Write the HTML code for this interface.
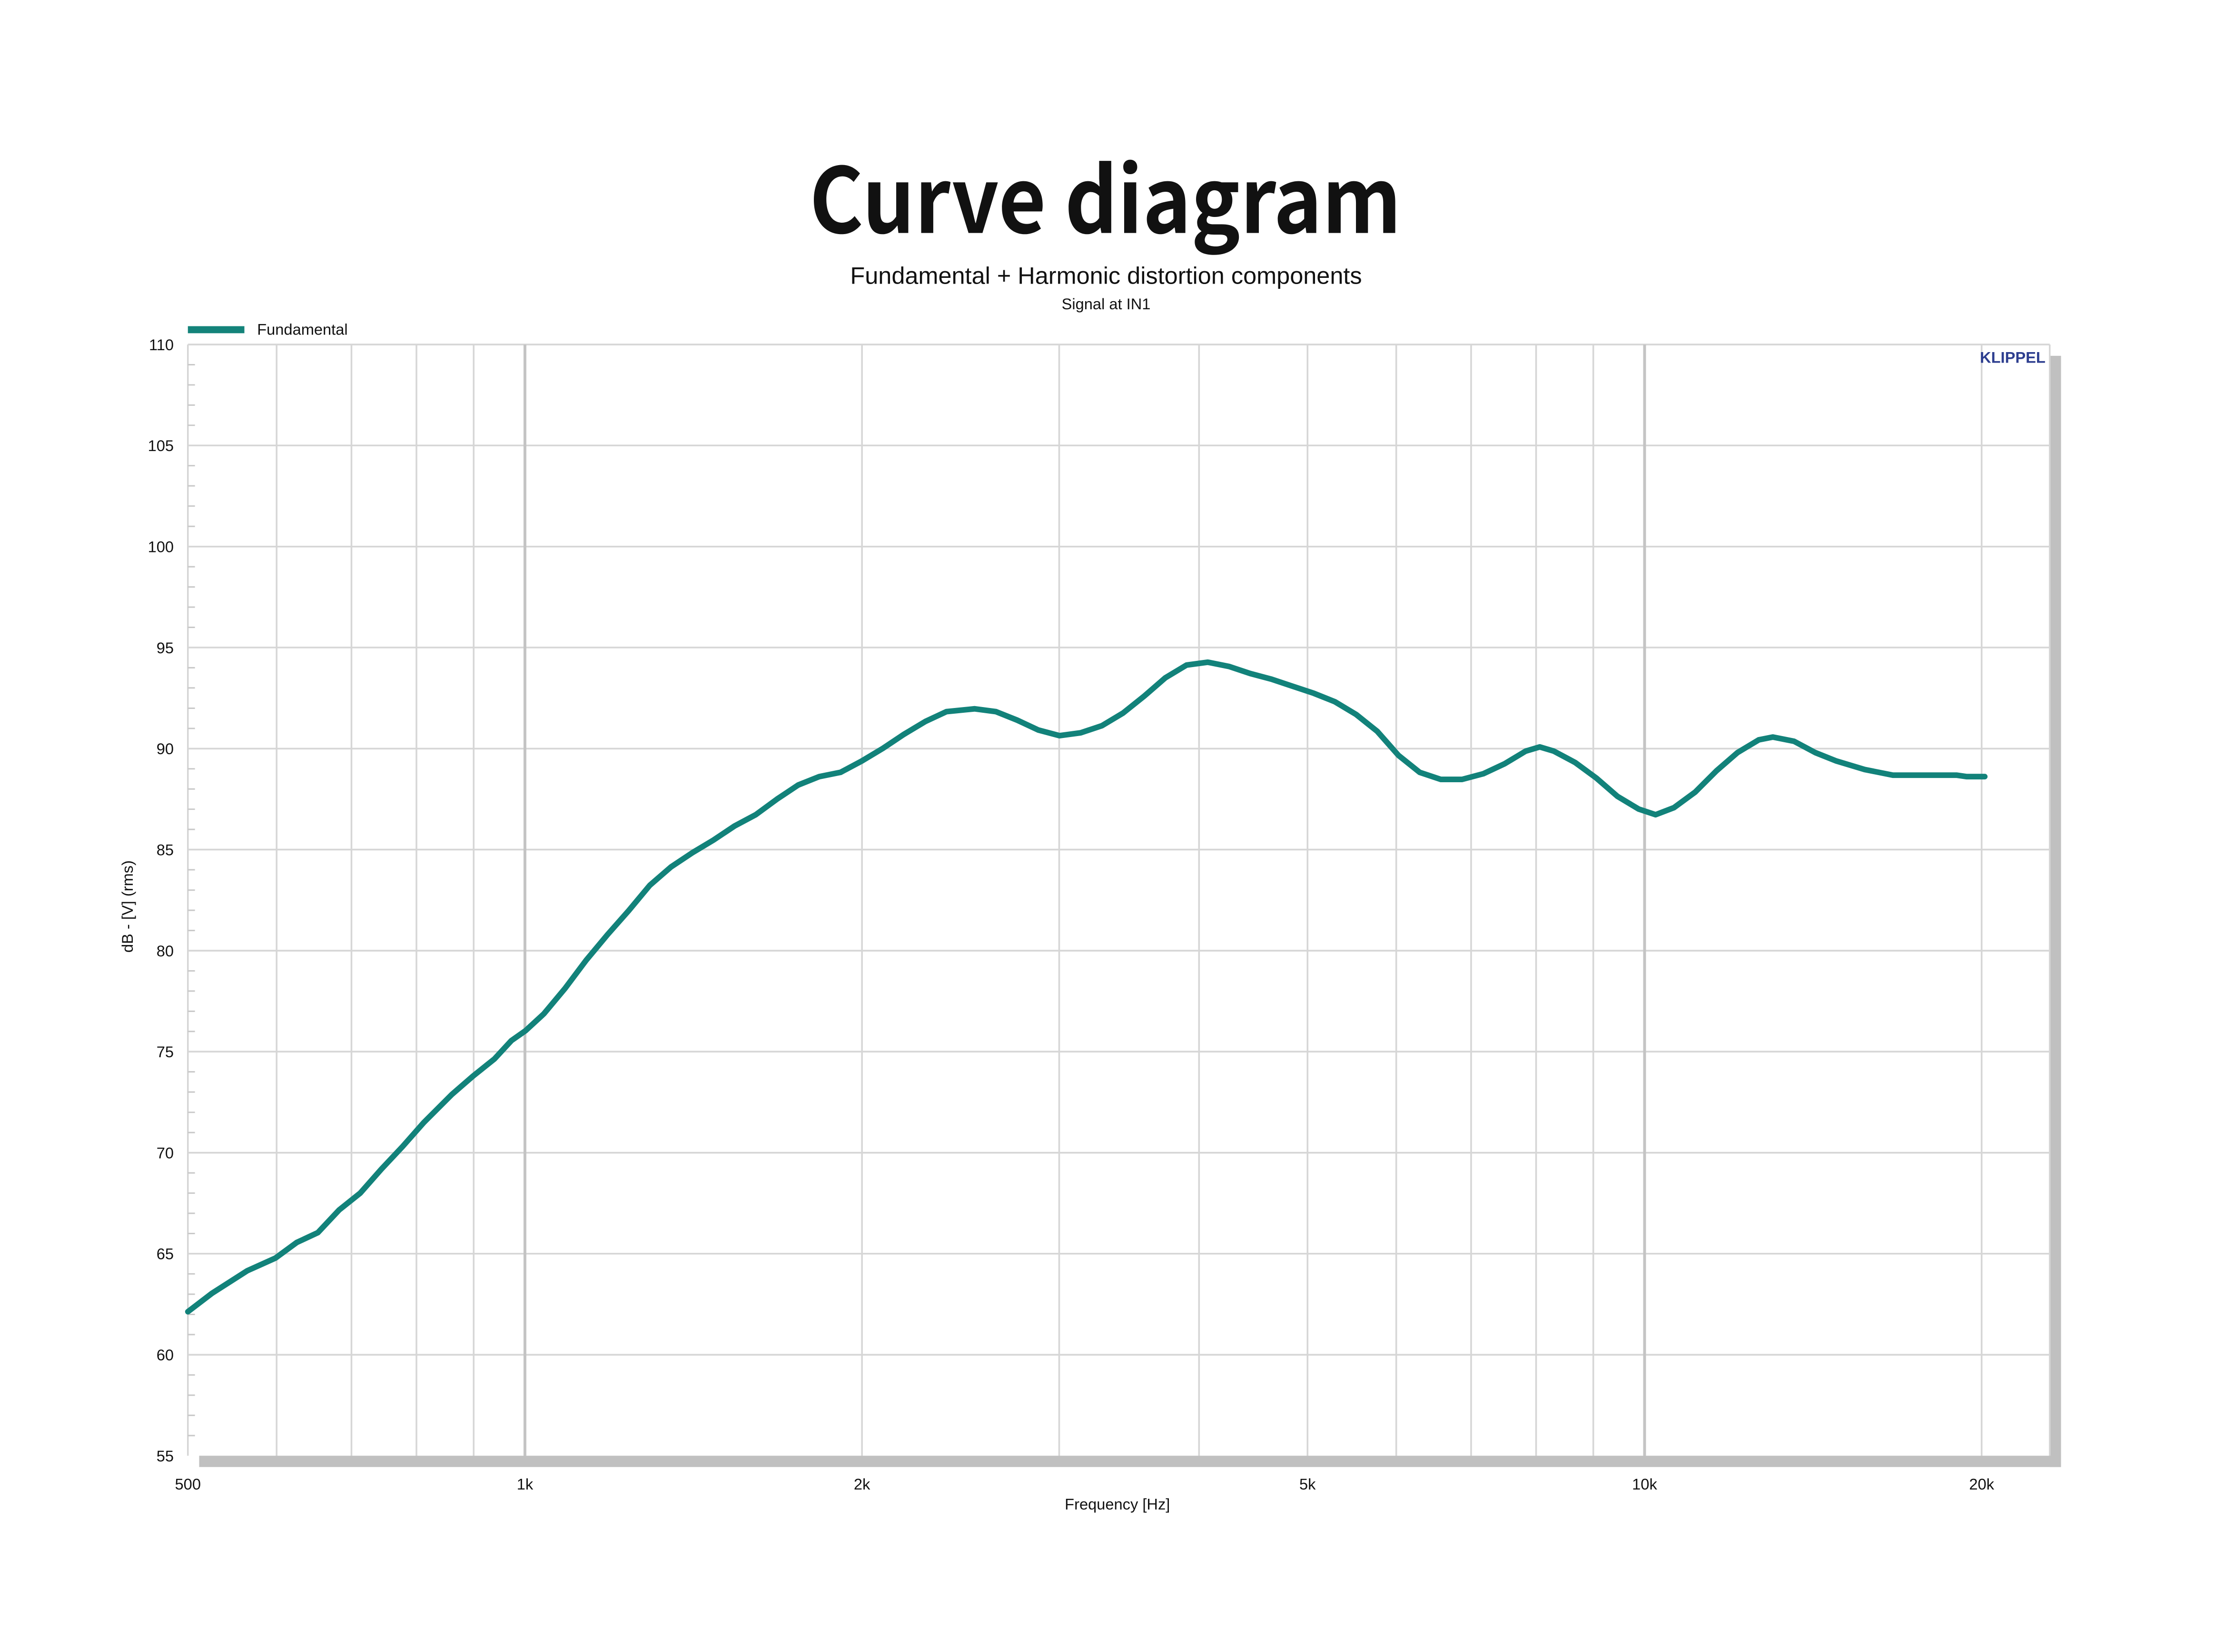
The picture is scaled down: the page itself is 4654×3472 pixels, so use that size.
<!DOCTYPE html>
<html><head><meta charset="utf-8"><style>
html,body{margin:0;padding:0;background:#fff;}
svg{display:block;}
</style></head><body>
<svg width="4654" height="3472" viewBox="0 0 1568 1170" preserveAspectRatio="none" xmlns="http://www.w3.org/2000/svg">
<rect width="1568" height="1170" fill="#fff"/>
<text x="573" y="165" textLength="419" lengthAdjust="spacingAndGlyphs" font-family="'Noto Sans CJK SC','Liberation Sans',sans-serif" font-weight="bold" font-size="64" fill="#111">Curve diagram</text>
<text x="783" y="201" text-anchor="middle" font-family="'Liberation Sans',sans-serif" font-size="17" fill="#111">Fundamental + Harmonic distortion components</text>
<text x="783" y="219" text-anchor="middle" font-family="'Liberation Sans',sans-serif" font-size="11" fill="#111">Signal at IN1</text>
<rect x="133" y="231" width="40" height="5" fill="#14837a"/>
<text x="182" y="237" font-family="'Liberation Sans',sans-serif" font-size="11" fill="#111">Fundamental</text>
<rect x="1451" y="252" width="8" height="787" fill="#c0c0c0"/>
<rect x="141" y="1031" width="1318" height="8" fill="#c0c0c0"/>
<g stroke="#d6d6d6" stroke-width="1.2">
<line x1="133" y1="244" x2="1451" y2="244"/>
<line x1="133" y1="315.5" x2="1451" y2="315.5"/>
<line x1="133" y1="387.1" x2="1451" y2="387.1"/>
<line x1="133" y1="458.6" x2="1451" y2="458.6"/>
<line x1="133" y1="530.2" x2="1451" y2="530.2"/>
<line x1="133" y1="601.7" x2="1451" y2="601.7"/>
<line x1="133" y1="673.3" x2="1451" y2="673.3"/>
<line x1="133" y1="744.8" x2="1451" y2="744.8"/>
<line x1="133" y1="816.4" x2="1451" y2="816.4"/>
<line x1="133" y1="887.9" x2="1451" y2="887.9"/>
<line x1="133" y1="959.5" x2="1451" y2="959.5"/>
<line x1="195.8" y1="244" x2="195.8" y2="1031"/>
<line x1="248.8" y1="244" x2="248.8" y2="1031"/>
<line x1="294.8" y1="244" x2="294.8" y2="1031"/>
<line x1="335.3" y1="244" x2="335.3" y2="1031"/>
<line x1="610.2" y1="244" x2="610.2" y2="1031"/>
<line x1="749.8" y1="244" x2="749.8" y2="1031"/>
<line x1="848.8" y1="244" x2="848.8" y2="1031"/>
<line x1="925.6" y1="244" x2="925.6" y2="1031"/>
<line x1="988.4" y1="244" x2="988.4" y2="1031"/>
<line x1="1041.4" y1="244" x2="1041.4" y2="1031"/>
<line x1="1087.4" y1="244" x2="1087.4" y2="1031"/>
<line x1="1127.9" y1="244" x2="1127.9" y2="1031"/>
<line x1="1402.8" y1="244" x2="1402.8" y2="1031"/>
<line x1="133" y1="244" x2="133" y2="1031"/>
<line x1="1451" y1="244" x2="1451" y2="1031"/>
</g>
<g stroke="#c4c4c4" stroke-width="2">
<line x1="371.6" y1="244" x2="371.6" y2="1031"/>
<line x1="1164.2" y1="244" x2="1164.2" y2="1031"/>
</g>
<g stroke="#c8c8c8" stroke-width="1">
<path d="M133 258.3h5M133 272.6h5M133 286.9h5M133 301.2h5M133 329.8h5M133 344.1h5M133 358.4h5M133 372.8h5M133 401.4h5M133 415.7h5M133 430h5M133 444.3h5M133 472.9h5M133 487.2h5M133 501.6h5M133 515.9h5M133 544.5h5M133 558.8h5M133 573.1h5M133 587.4h5M133 616h5M133 630.4h5M133 644.7h5M133 659h5M133 687.6h5M133 701.9h5M133 716.2h5M133 730.5h5M133 759.1h5M133 773.4h5M133 787.8h5M133 802.1h5M133 830.7h5M133 845h5M133 859.3h5M133 873.6h5M133 902.2h5M133 916.6h5M133 930.9h5M133 945.2h5M133 973.8h5M133 988.1h5M133 1002.4h5M133 1016.7h5"/>
</g>
<g font-family="'Liberation Sans',sans-serif" font-size="11" fill="#111" text-anchor="end">
<text x="123" y="248">110</text><text x="123" y="319.5">105</text><text x="123" y="391">100</text>
<text x="123" y="462.6">95</text><text x="123" y="534.2">90</text><text x="123" y="605.7">85</text>
<text x="123" y="677.3">80</text><text x="123" y="748.8">75</text><text x="123" y="820.4">70</text>
<text x="123" y="891.9">65</text><text x="123" y="963.5">60</text><text x="123" y="1035">55</text>
</g>
<g font-family="'Liberation Sans',sans-serif" font-size="11" fill="#111" text-anchor="middle">
<text x="133" y="1055">500</text><text x="371.6" y="1055">1k</text><text x="610.2" y="1055">2k</text>
<text x="925.6" y="1055">5k</text><text x="1164.2" y="1055">10k</text><text x="1402.8" y="1055">20k</text>
<text x="791" y="1069">Frequency [Hz]</text>
<text transform="translate(94,642) rotate(-90)">dB - [V]  (rms)</text>
</g>
<text x="1448" y="257" text-anchor="end" font-family="'Liberation Sans',sans-serif" font-weight="bold" font-size="11" fill="#2d3e8f">KLIPPEL</text>
<polyline fill="none" stroke="#12827a" stroke-width="4" stroke-linejoin="round" stroke-linecap="round" points="133,929 150,916 175,900 195,891 210,880 225,873 240,857 255,845 270,828 285,812 300,795 320,775 335,762 350,750 362,737 372,730 385,718 400,700 415,680 430,662 445,645 460,627 475,614 490,604 505,595 520,585 535,577 550,566 565,556 580,550 595,547 610,539 625,530 640,520 655,511 670,504 690,502 705,504 720,510 735,517 750,521 765,519 780,514 795,505 810,493 825,480 840,471 855,469 870,472 885,477 900,481 915,486 930,491 945,497 960,506 975,518 990,535 1005,547 1020,552 1035,552 1050,548 1065,541 1080,532 1090,529 1100,532 1115,540 1130,551 1145,564 1160,573 1172,577 1185,572 1200,561 1215,546 1230,533 1245,524 1255,522 1270,525 1285,533 1300,539 1320,545 1340,549 1360,549 1385,549 1392,550 1405,550"/>
</svg>
</body></html>
